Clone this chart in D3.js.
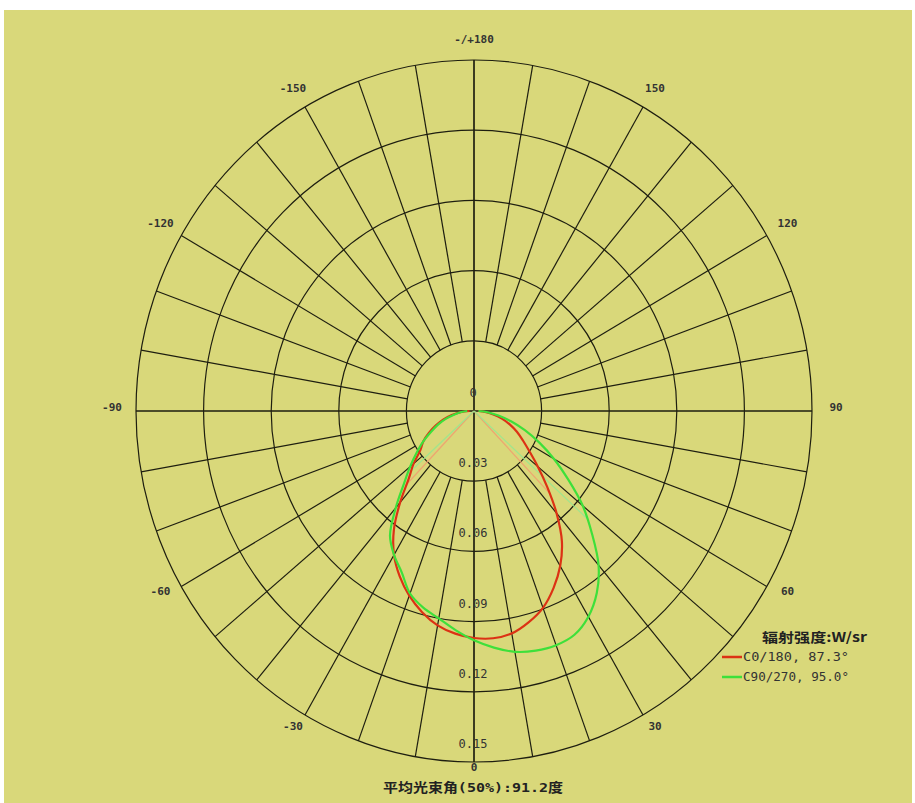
<!DOCTYPE html>
<html><head><meta charset="utf-8">
<script src="https://cdnjs.cloudflare.com/ajax/libs/d3/7.8.5/d3.min.js"></script>
<style>html,body{margin:0;padding:0;background:#fff;}svg{display:block;}</style>
</head><body>
<script>
// ---- data ----
const angles = [-90,-85,-80,-75,-70,-65,-60,-55,-50,-45,-40,-35,-30,-25,-20,-15,-10,-5,0,5,10,15,20,25,30,35,40,45,50,55,60,65,70,75,80,85,90];
const c0_180 = [0.002,0.006,0.010,0.014,0.018,0.022,0.026,0.029,0.035,0.041,0.051,0.062,0.071,0.078,0.084,0.089,0.093,0.0955,0.097,0.0975,0.0965,0.0935,0.0895,0.0835,0.0765,0.068,0.057,0.046,0.037,0.030,0.025,0.021,0.017,0.013,0.009,0.005,0.002];
const c90_270 = [0.003,0.006,0.009,0.013,0.017,0.021,0.026,0.031,0.037,0.044,0.054,0.065,0.071,0.076,0.083,0.087,0.090,0.094,0.098,0.1015,0.1045,0.106,0.1065,0.1055,0.1015,0.095,0.086,0.074,0.063,0.051,0.041,0.032,0.024,0.017,0.011,0.006,0.002];
const ringValues = [0.03,0.06,0.09,0.12,0.15];
const ringLabelValues = [0,0.03,0.06,0.09,0.12,0.15];
const ringLabels = ["0","0.03","0.06","0.09","0.12","0.15"];
const angleTicks = [0,30,60,90,120,150,180,-150,-120,-90,-60,-30];
const angleTickLabels = ["0","30","60","90","120","150","-/+180","-150","-120","-90","-60","-30"];
const seriesNames = ["C0/180, 87.3°","C90/270, 95.0°"];
const beamAngles = [87.3,95.0];
const legendTitle = "辐射强度:W/sr";
const bottomTitle = "平均光束角(50%):91.2度";

// ---- layout ----
const W=915,H=803, cx=474, cy=411, RX=338, RY=351;
const svg = d3.select("body").append("svg").attr("width",W).attr("height",H);
svg.append("rect").attr("x",4).attr("y",10).attr("width",908).attr("height",793).attr("fill","#d9d87a");

const r = d3.scaleLinear().domain([0,0.15]).range([0,1]);
const px = (v,a)=>cx + r(v)*RX*Math.sin(a*Math.PI/180);
const py = (v,a)=>cy + r(v)*RY*Math.cos(a*Math.PI/180);
const gridColor = "#1e1e10";

const g = svg.append("g");
// rings
g.selectAll("ellipse.ring").data(ringValues).join("ellipse")
  .attr("cx",cx).attr("cy",cy).attr("rx",d=>r(d)*RX).attr("ry",d=>r(d)*RY)
  .attr("fill","none").attr("stroke",gridColor).attr("stroke-width",1.2);
// spokes
const spokes = d3.range(-170,190,10);
g.selectAll("line.spoke").data(spokes).join("line")
  .attr("x1",a=> (a%90===0)?px(0.15,a+180):px(0.03,a))
  .attr("y1",a=> (a%90===0)?py(0.15,a+180):py(0.03,a))
  .attr("x2",a=>px(0.15,a)).attr("y2",a=>py(0.15,a))
  .attr("stroke",gridColor).attr("stroke-width",1.2);

// ring labels
g.selectAll("text.rl").data(ringLabelValues).join("text")
  .attr("x",cx-1).attr("y",d=>py(d,0)-14)
  .attr("text-anchor","middle").attr("font-family","DejaVu Sans Mono, monospace")
  .attr("font-size",12).attr("fill","#333").text((d,i)=>ringLabels[i]);

// angle labels
const LX=362, LY=368, LYbottom=360;
g.selectAll("text.al").data(angleTicks).join("text")
  .attr("x",a=>cx+LX*Math.sin(a*Math.PI/180))
  .attr("y",a=>cy+(a===0?LYbottom:LY)*Math.cos(a*Math.PI/180))
  .attr("text-anchor","middle").attr("font-family","DejaVu Sans Mono, monospace")
  .attr("font-size",11).attr("font-weight","bold").attr("fill","#333").text((a,i)=>angleTickLabels[i]);

// curves
const colors = ["#dc3214","#3ee03a"];
const lightColors = ["#f2a070","#9ae890"];
const series = [c0_180, c90_270];
const line = d3.line().x(d=>px(d[1],d[0])).y(d=>py(d[1],d[0])).curve(d3.curveCatmullRom);
const interp = (vals,a)=>{ const i = d3.bisectRight(angles,a)-1; const t=(a-angles[i])/(angles[i+1]-angles[i]); return vals[i]*(1-t)+vals[i+1]*t; };
// beam lines
series.forEach((vals,k)=>{
  [-beamAngles[k]/2, beamAngles[k]/2].forEach(a=>{
    const v = interp(vals,a);
    svg.append("line").attr("x1",cx).attr("y1",cy).attr("x2",px(v,a)).attr("y2",py(v,a))
      .attr("stroke",lightColors[k]).attr("stroke-width",1.2).attr("opacity",0.9);
  });
});
series.forEach((vals,k)=>{
  svg.append("path").datum(angles.map((a,i)=>[a,vals[i]]))
    .attr("d",line).attr("fill","none").attr("stroke",colors[k]).attr("stroke-width",2.2);
});

// legend
svg.append("text").attr("x",762).attr("y",642).attr("font-family","Noto Sans CJK SC, sans-serif")
  .attr("font-size",13).attr("font-weight","bold").attr("fill","#222")
  .attr("textLength",105).attr("lengthAdjust","spacingAndGlyphs").text(legendTitle);
seriesNames.forEach((s,k)=>{
  const y = 657 + k*20;
  svg.append("line").attr("x1",722).attr("x2",742).attr("y1",y).attr("y2",y).attr("stroke",colors[k]).attr("stroke-width",2.5);
  svg.append("text").attr("x",743).attr("y",y+4).attr("font-family","DejaVu Sans Mono, monospace")
    .attr("font-size",12).attr("fill","#333").attr("textLength",106).attr("lengthAdjust","spacingAndGlyphs").text(s);
});
// bottom title
svg.append("text").attr("x",473).attr("y",792).attr("text-anchor","middle")
  .attr("font-family","DejaVu Sans Mono, Noto Sans CJK SC, monospace").attr("font-size",13).attr("font-weight","bold")
  .attr("fill","#222").attr("textLength",180).attr("lengthAdjust","spacingAndGlyphs").text(bottomTitle);
</script>
</body></html>
